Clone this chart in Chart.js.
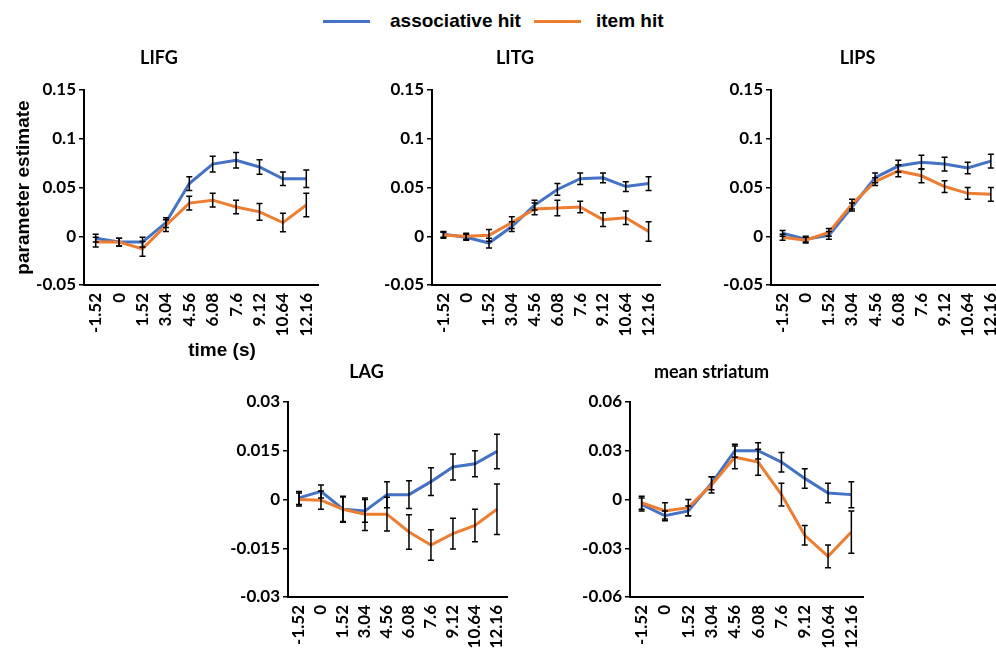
<!DOCTYPE html>
<html lang="en">
<head>
<meta charset="utf-8" />
<script src="https://cdn.jsdelivr.net/npm/chart.js@4.4.1/dist/chart.umd.min.js"></script>
<style>
  html, body { margin: 0; padding: 0; background: #fff; width: 996px; height: 649px; overflow: hidden; position: relative; }
  canvas { position: absolute; }
  #legend { position: absolute; top: 10px; left: 323px; font: bold 19px "Liberation Sans", Arial, sans-serif; display: flex; align-items: center; white-space: nowrap; color: #000; }
  .swatch { display: inline-block; width: 47px; height: 3px; }
  #timeLabel { position: absolute; left: 222px; top: 350px; transform: translate(-50%, -50%); font: bold 19px "Liberation Sans", Arial, sans-serif; white-space: nowrap; color: #000; }
</style>
</head>
<body>
<div id="legend">
  <span class="swatch" style="background:#4472C4; margin-right:20px"></span><span>associative hit</span>
  <span class="swatch" style="background:#ED7D31; margin-left:13px; margin-right:15px"></span><span>item hit</span>
</div>
<canvas id="lifg"></canvas>
<canvas id="litg"></canvas>
<canvas id="lips"></canvas>
<canvas id="lag"></canvas>
<canvas id="striatum"></canvas>
<div id="timeLabel">time (s)</div>
<script>
// time points (s)
const timeLabels = ["-1.52", "0", "1.52", "3.04", "4.56", "6.08", "7.6", "9.12", "10.64", "12.16"];
const seriesNames = ["associative hit", "item hit"];

// y tick values
const yTicksCortex = [-0.05, 0, 0.05, 0.1, 0.15];
const yTicksLag = [-0.03, -0.015, 0, 0.015, 0.03];
const yTicksStriatum = [-0.06, -0.03, 0, 0.03, 0.06];

// LIFG
const lifgAssoc    = [-0.002, -0.006, -0.006, 0.014, 0.054, 0.074, 0.078, 0.071, 0.059, 0.059];
const lifgAssocErr = [0.004, 0.004, 0.005, 0.005, 0.007, 0.008, 0.008, 0.0075, 0.007, 0.009];
const lifgItem     = [-0.006, -0.006, -0.013, 0.011, 0.034, 0.037, 0.030, 0.025, 0.014, 0.032];
const lifgItemErr  = [0.005, 0.004, 0.0075, 0.006, 0.007, 0.007, 0.007, 0.0085, 0.0095, 0.012];

// LITG
const litgAssoc    = [0.002, -0.001, -0.007, 0.010, 0.032, 0.048, 0.059, 0.060, 0.051, 0.054];
const litgAssocErr = [0.003, 0.003, 0.005, 0.005, 0.005, 0.006, 0.006, 0.005, 0.005, 0.007];
const litgItem     = [0.001, 0.000, 0.001, 0.014, 0.028, 0.029, 0.030, 0.017, 0.019, 0.005];
const litgItemErr  = [0.003, 0.003, 0.006, 0.006, 0.006, 0.008, 0.006, 0.007, 0.007, 0.010];

// LIPS
const lipsAssoc    = [0.003, -0.003, 0.001, 0.030, 0.060, 0.072, 0.076, 0.074, 0.070, 0.077];
const lipsAssocErr = [0.003, 0.003, 0.004, 0.004, 0.005, 0.006, 0.007, 0.007, 0.006, 0.007];
const lipsItem     = [-0.001, -0.004, 0.004, 0.033, 0.056, 0.067, 0.062, 0.051, 0.044, 0.043];
const lipsItemErr  = [0.003, 0.003, 0.004, 0.005, 0.004, 0.006, 0.007, 0.006, 0.006, 0.007];

// LAG
const lagAssoc    = [0.0005, 0.0025, -0.003, -0.0035, 0.0015, 0.0015, 0.0055, 0.010, 0.011, 0.0148];
const lagAssocErr = [0.002, 0.002, 0.004, 0.0035, 0.004, 0.0043, 0.0043, 0.004, 0.004, 0.0053];
const lagItem     = [0.0, -0.0002, -0.003, -0.0045, -0.0045, -0.010, -0.014, -0.0105, -0.008, -0.003];
const lagItemErr  = [0.002, 0.0028, 0.0038, 0.005, 0.0052, 0.0053, 0.0047, 0.0047, 0.005, 0.0078];

// mean striatum
const strAssoc    = [-0.003, -0.010, -0.007, 0.010, 0.030, 0.030, 0.023, 0.013, 0.004, 0.003];
const strAssocErr = [0.004, 0.003, 0.003, 0.004, 0.004, 0.005, 0.006, 0.006, 0.006, 0.008];
const strItem     = [-0.002, -0.007, -0.005, 0.009, 0.026, 0.023, 0.003, -0.022, -0.035, -0.020];
const strItemErr  = [0.004, 0.005, 0.005, 0.005, 0.007, 0.008, 0.007, 0.006, 0.007, 0.013];

const blue = "#4472C4";
const orange = "#ED7D31";
const tickFont = { family: "Lato", size: 17, weight: "bold" };

// draws the error bars from each dataset's "errors" array
const errorBars = {
  id: "errorBars",
  afterDatasetsDraw(chart) {
    const ctx = chart.ctx;
    const y = chart.scales.y;
    ctx.save();
    ctx.strokeStyle = "#000";
    ctx.lineWidth = 1.5;
    chart.data.datasets.forEach((ds, i) => {
      chart.getDatasetMeta(i).data.forEach((pt, j) => {
        const top = y.getPixelForValue(ds.data[j] + ds.errors[j]);
        const bot = y.getPixelForValue(ds.data[j] - ds.errors[j]);
        ctx.beginPath();
        ctx.moveTo(pt.x, top); ctx.lineTo(pt.x, bot);
        ctx.moveTo(pt.x - 3, top); ctx.lineTo(pt.x + 3, top);
        ctx.moveTo(pt.x - 3, bot); ctx.lineTo(pt.x + 3, bot);
        ctx.stroke();
      });
    });
    ctx.restore();
  }
};

function makePanel(id, title, assoc, assocErr, item, itemErr, yTicks, box) {
  const cv = document.getElementById(id);
  cv.width = box.w; cv.height = box.h;
  cv.style.left = box.left + "px"; cv.style.top = box.top + "px";
  cv.style.width = box.w + "px"; cv.style.height = box.h + "px";
  new Chart(cv.getContext("2d"), {
    type: "line",
    data: {
      labels: timeLabels,
      datasets: [
        { label: seriesNames[0], data: assoc, errors: assocErr, borderColor: blue, borderWidth: 3, pointRadius: 0, tension: 0, order: 1 },
        { label: seriesNames[1], data: item, errors: itemErr, borderColor: orange, borderWidth: 3, pointRadius: 0, tension: 0, order: 0 }
      ]
    },
    options: {
      responsive: false,
      animation: false,
      devicePixelRatio: 1,
      layout: { padding: { left: 0, right: box.padRight, top: 0, bottom: 0 } },
      plugins: {
        legend: { display: false },
        tooltip: { enabled: false },
        title: {
          display: true, text: title, color: "#000",
          font: { family: "Lato", size: 18, weight: "bold", lineHeight: 1.2 },
          padding: { top: box.titleTop, bottom: box.titleBottom }
        }
      },
      scales: {
        x: {
          offset: true,
          grid: { display: false, drawTicks: false },
          border: { display: true, color: "#000", width: 2 },
          ticks: { minRotation: 90, maxRotation: 90, autoSkip: false, color: "#000", font: tickFont, padding: 8 },
          afterFit: s => { s.height = box.xHeight; }
        },
        y: {
          min: yTicks[0], max: yTicks[yTicks.length - 1],
          afterBuildTicks: s => { s.ticks = yTicks.map(v => ({ value: v })); },
          grid: { drawOnChartArea: false, drawTicks: true, tickLength: 5, color: "#000", lineWidth: 1.5 },
          border: { display: true, color: "#000", width: 2 },
          ticks: { color: "#000", font: tickFont, padding: 3, callback: v => String(v) },
          title: {
            display: !!box.yTitle, text: "parameter estimate", color: "#000",
            font: { family: "Liberation Sans", size: 19, weight: "bold", lineHeight: 1.2 },
            padding: { top: 12, bottom: 0 }
          },
          afterFit: s => { s.width = box.yWidth; }
        }
      }
    },
    plugins: [errorBars]
  });
}

makePanel("lifg", "LIFG", lifgAssoc, lifgAssocErr, lifgItem, lifgItemErr, yTicksCortex,
  { left: 0, top: 40, w: 354, h: 305, yWidth: 84, xHeight: 60, padRight: 36, titleTop: 7, titleBottom: 21.4, yTitle: true });
makePanel("litg", "LITG", litgAssoc, litgAssocErr, litgItem, litgItemErr, yTicksCortex,
  { left: 370, top: 40, w: 314, h: 305, yWidth: 62, xHeight: 60, padRight: 24, titleTop: 7, titleBottom: 21.4 });
makePanel("lips", "LIPS", lipsAssoc, lipsAssocErr, lipsItem, lipsItemErr, yTicksCortex,
  { left: 710, top: 40, w: 310, h: 305, yWidth: 61, xHeight: 60, padRight: 15, titleTop: 7, titleBottom: 21.4 });
makePanel("lag", "LAG", lagAssoc, lagAssocErr, lagItem, lagItemErr, yTicksLag,
  { left: 220, top: 350, w: 306, h: 299, yWidth: 68, xHeight: 52, padRight: 13, titleTop: 11, titleBottom: 19.4 });
makePanel("striatum", "mean striatum", strAssoc, strAssocErr, strItem, strItemErr, yTicksStriatum,
  { left: 560, top: 350, w: 330, h: 299, yWidth: 70, xHeight: 52, padRight: 27, titleTop: 11, titleBottom: 19.4 });
</script>
</body>
</html>
